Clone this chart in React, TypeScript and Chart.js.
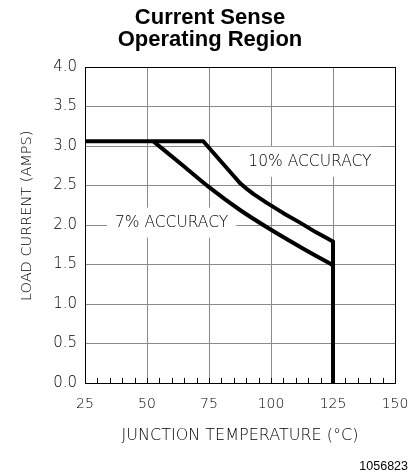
import { useEffect, useRef } from "react";
import { Chart, registerables } from "chart.js";

Chart.register(...registerables);

// 10% accuracy boundary (flat 3.06 A part, the bend, and the drop at 125 °C)
const TEMP_10 = [25, 72.7, 79.4, 85, 87.5, 90.5, 93, 98.3, 105, 111.7, 118, 125, 125];
const CURRENT_10 = [3.06, 3.06, 2.82, 2.62, 2.53, 2.45, 2.39, 2.28, 2.15, 2.03, 1.91, 1.79, 0];

// 7% accuracy boundary
const TEMP_7 = [52.5, 64.6, 75.4, 87.5, 100, 112.5, 125];
const CURRENT_7 = [3.06, 2.75, 2.47, 2.19, 1.94, 1.71, 1.49];

const X_TICKS = [25, 50, 75, 100, 125, 150];
const Y_TICKS = ["0.0", "0.5", "1.0", "1.5", "2.0", "2.5", "3.0", "3.5", "4.0"];
const MINOR_STEP = 5;

const LABEL_TEXT = ["10% ACCURACY", "7% ACCURACY"];
const LABEL_TEMP = [115.7, 59.9];
const LABEL_CURRENT = [2.8, 2.03];

const TITLE = ["Current Sense", "Operating Region"];
const FIGURE_ID = "1056823";

const LIGHT = '"DejaVu Sans", sans-serif';
const ARIAL = '"Liberation Sans", Arial, sans-serif';
const GRID = "#8a8a8a";

const overlay = {
  id: "overlay",
  beforeDatasetsDraw(chart: any) {
    const { ctx, scales } = chart;
    ctx.save();
    ctx.font = `300 15.5px ${LIGHT}`;
    for (let i = 0; i < LABEL_TEXT.length; i++) {
      const cx = scales.x.getPixelForValue(LABEL_TEMP[i]);
      const cy = scales.y.getPixelForValue(LABEL_CURRENT[i]);
      const w = ctx.measureText(LABEL_TEXT[i]).width + 16;
      const h = 30;
      ctx.fillStyle = "#ffffff";
      ctx.fillRect(cx - w / 2, cy - h / 2, w, h);
    }
    ctx.restore();
  },
  afterDatasetsDraw(chart: any) {
    const { ctx, scales, chartArea } = chart;
    ctx.save();
    ctx.font = `300 15.5px ${LIGHT}`;
    ctx.fillStyle = "#000";
    ctx.textAlign = "center";
    ctx.textBaseline = "middle";
    for (let i = 0; i < LABEL_TEXT.length; i++) {
      const cx = scales.x.getPixelForValue(LABEL_TEMP[i]);
      const cy = scales.y.getPixelForValue(LABEL_CURRENT[i]);
      ctx.fillText(LABEL_TEXT[i], cx, cy);
    }
    // minor ticks along the bottom axis
    ctx.strokeStyle = "#000";
    ctx.lineWidth = 1;
    ctx.beginPath();
    for (let v = scales.x.min; v <= scales.x.max; v += MINOR_STEP) {
      const px = Math.round(scales.x.getPixelForValue(v)) + 0.5;
      ctx.moveTo(px, chartArea.bottom);
      ctx.lineTo(px, chartArea.bottom - 5);
    }
    ctx.stroke();
    // frame
    ctx.strokeRect(
      Math.round(chartArea.left) + 0.5,
      Math.round(chartArea.top) + 0.5,
      Math.round(chartArea.right - chartArea.left),
      Math.round(chartArea.bottom - chartArea.top)
    );
    // figure id
    ctx.font = `12.5px ${ARIAL}`;
    ctx.textAlign = "right";
    ctx.fillText(FIGURE_ID, chart.width - 6, 467);
    ctx.restore();
  },
};

export default function App() {
  const ref = useRef<HTMLCanvasElement | null>(null);

  useEffect(() => {
    if (!ref.current) return;
    const chart = new Chart(ref.current, {
      type: "line",
      data: {
        datasets: [
          {
            label: "10% accuracy",
            data: TEMP_10.map((t, i) => ({ x: t, y: CURRENT_10[i] })),
            borderColor: "#000",
            borderWidth: 4,
            pointRadius: 0,
            tension: 0,
            borderJoinStyle: "round",
            fill: false,
          },
          {
            label: "7% accuracy",
            data: TEMP_7.map((t, i) => ({ x: t, y: CURRENT_7[i] })),
            borderColor: "#000",
            borderWidth: 4,
            pointRadius: 0,
            cubicInterpolationMode: "monotone",
            borderJoinStyle: "round",
            fill: false,
          },
        ],
      },
      options: {
        animation: false,
        responsive: false,
        maintainAspectRatio: false,
        layout: { padding: { left: 25, right: 19, top: 0, bottom: 0 } },
        plugins: {
          legend: { display: false },
          tooltip: { enabled: false },
          title: {
            display: true,
            text: TITLE,
            color: "#000",
            font: { family: ARIAL, size: 22, weight: "bold", lineHeight: 1 },
            padding: { top: 7, bottom: 16 },
          },
        },
        scales: {
          x: {
            type: "linear",
            min: X_TICKS[0],
            max: X_TICKS[X_TICKS.length - 1],
            afterBuildTicks: (s: any) => {
              s.ticks = X_TICKS.map((v) => ({ value: v }));
            },
            afterFit: (s: any) => {
              s.height = 91;
              s.paddingLeft = 0;
              s.paddingRight = 0;
            },
            ticks: {
              color: "#000",
              font: { family: LIGHT, size: 14, weight: "300" },
              padding: 13,
              maxRotation: 0,
              autoSkip: false,
              callback: (v: any) => String(v),
            },
            grid: { color: GRID, lineWidth: 1, drawTicks: false },
            border: { color: "#000", width: 1 },
            title: {
              display: true,
              text: "JUNCTION TEMPERATURE (°C)",
              color: "#000",
              font: { family: LIGHT, size: 16, weight: "300" },
              padding: { top: 0, bottom: 29 },
            },
          },
          y: {
            type: "linear",
            min: 0,
            max: 4,
            afterBuildTicks: (s: any) => {
              s.ticks = Y_TICKS.map((v) => ({ value: parseFloat(v) }));
            },
            afterFit: (s: any) => {
              s.width = 60;
              s.paddingTop = 0;
              s.paddingBottom = 0;
            },
            ticks: {
              color: "#000",
              font: { family: LIGHT, size: 15, weight: "300" },
              padding: 8,
              autoSkip: false,
              callback: (v: any) => Number(v).toFixed(1),
            },
            grid: { color: GRID, lineWidth: 1, drawTicks: false },
            border: { color: "#000", width: 1 },
            title: {
              display: true,
              text: "    LOAD CURRENT (AMPS)",
              color: "#000",
              font: { family: LIGHT, size: 14.5, weight: "300" },
              padding: { top: -6.7, bottom: 0 },
            },
          },
        },
      },
      plugins: [overlay],
    });
    return () => chart.destroy();
  }, []);

  return (
    <div style={{ position: "fixed", left: 0, top: 0, width: 414, height: 474, background: "#fff" }}>
      <canvas ref={ref} width={414} height={474} style={{ width: 414, height: 474, display: "block" }} />
    </div>
  );
}
